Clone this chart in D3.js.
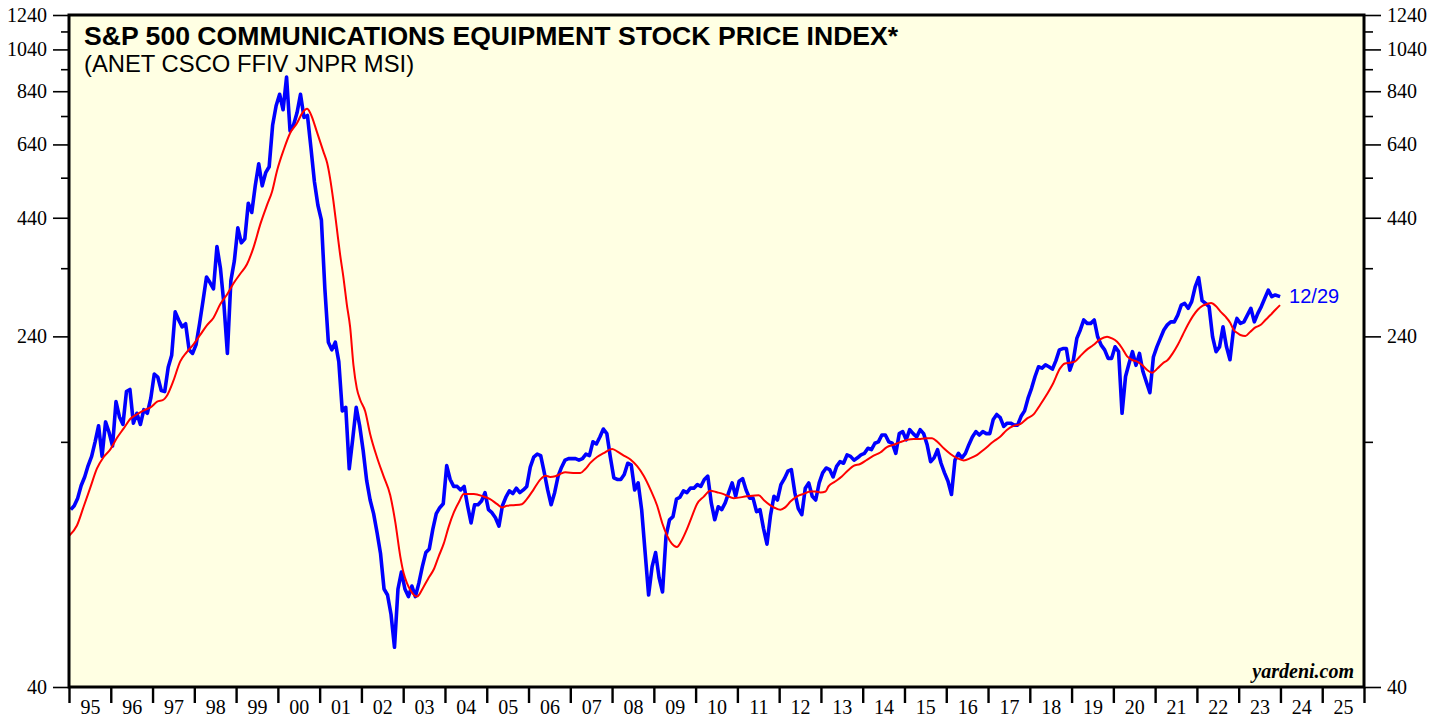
<!DOCTYPE html>
<html>
<head>
<meta charset="utf-8">
<script src="https://cdn.jsdelivr.net/npm/d3@7/dist/d3.min.js"></script>
<style>
  body { margin: 0; background: #fff; }
  svg { display: block; }
</style>
</head>
<body>
<div id="chart"></div>
<script>
// monthly readings, Jan 1995 .. Dec 2023 (the last one is 12/29)
var priceStartYear = 1995;
var priceValues = [
  99, 101, 105, 112, 117, 124, 130, 140, 152, 130, 155, 147,              // 95
  137, 172, 159, 153, 181, 183, 154, 162, 153, 165, 162, 175,             // 96
  198, 195, 182, 181, 205, 218, 272, 261, 252, 256, 224, 220,             // 97
  230, 256, 288, 325, 316, 306, 380, 340, 283, 220, 319, 353,             // 98
  418, 387, 395, 474, 452, 518, 580, 518, 554, 571, 707, 780,             // 99
  827, 764, 903, 686, 707, 752, 827, 735, 742, 629, 529, 469,             // 00
  435, 306, 233, 224, 233, 211, 164, 167, 122, 142, 167, 152,             // 01
  134, 115, 104, 97, 88, 79, 66, 64, 58, 49, 66, 72,                      // 02
  66, 63.5, 67, 63.5, 68, 74, 79.5, 81, 89.5, 97, 100, 102,               // 03
  124, 115.5, 111.5, 111.5, 109.5, 111.5, 101, 92.5, 101.5, 101.5, 103.5, 108, // 04
  99, 97.5, 95, 91, 101, 105.5, 109, 107.5, 110.5, 108, 109.5, 111.5,     // 05
  123, 129.5, 131.5, 130.5, 120, 109.5, 101.5, 108, 117.5, 123, 127.5, 128.5, // 06
  128.5, 128.5, 127.5, 128.5, 131.5, 130.5, 140, 138.5, 143.5, 149.5, 146, 129.5, // 07
  116.5, 115.5, 115.5, 118.5, 125.5, 124.5, 109.5, 113.5, 99, 79.5, 64, 74, // 08
  79.5, 70, 65, 86.5, 94, 95.5, 104.5, 105.5, 109, 108, 110.5, 110.5,     // 09
  112.5, 111.5, 115.5, 117.5, 102.5, 94, 100.5, 99, 102.5, 108, 113.5, 106, // 10
  114.5, 116, 109.5, 105, 105, 98, 99, 90, 83, 96, 106, 104,              // 11
  112.5, 116, 120.5, 121.5, 108, 99.5, 96.5, 110.5, 113.5, 106, 104, 113.5, // 12
  119.5, 122.5, 121.5, 117, 123.5, 126.5, 125.5, 131, 130, 127.5, 129, 131, // 13
  132, 135.5, 134.5, 139, 140, 145, 145, 140, 139, 132, 146, 147.5,       // 14
  141.5, 149, 146, 143.5, 149, 146, 138, 126.5, 129, 134.5, 125.5, 119.5, // 15
  114.5, 107, 127.5, 132, 129, 132, 138, 143.5, 147.5, 145, 147.5, 146,   // 16
  146, 157, 161, 158.5, 151.5, 154, 154, 152.5, 152.5, 159.5, 164, 175,   // 17
  184, 195.5, 205.5, 204, 207.5, 205.5, 203, 212, 224, 225.5, 225.5, 202, // 18
  212.5, 237.5, 248, 261, 256.5, 256.5, 261, 239.5, 229.5, 224, 214.5, 214.5, // 19
  227.5, 222, 162, 195.5, 209, 222, 207, 220, 200.5, 190, 180, 216,       // 20
  227.5, 237.5, 248, 254.5, 258.5, 258.5, 267.5, 281.5, 284, 277, 286.5, 309, // 21
  324, 288, 284, 279.5, 239.5, 222, 227.5, 252, 227.5, 213, 248, 263,     // 22
  256.5, 258.5, 267.5, 277, 258.5, 270, 279.5, 291.5, 304, 294, 296.5, 294 // 23
];
var lastDate = 2023 + 362 / 365;   // 12/29/2023

// red moving average: [year, value]
var avgPoints = [
  [1995.01, 86.8], [1995.19, 91.3], [1995.35, 100.5], [1995.51, 110.8], [1995.67, 122.2], [1995.83, 129.6],
  [1995.99, 134.7], [1996.15, 142.9], [1996.31, 150], [1996.47, 157.5], [1996.63, 161.2], [1996.78, 164.3],
  [1996.95, 166.9], [1997.11, 171.9], [1997.26, 173.6], [1997.34, 177], [1997.50, 191.4], [1997.66, 211],
  [1997.82, 221.5], [1997.98, 230.3], [1998.14, 241.8], [1998.30, 253.9], [1998.46, 264], [1998.62, 282.7],
  [1998.78, 296.8], [1998.94, 314.8], [1999.10, 330.5], [1999.26, 346.9], [1999.42, 378.8], [1999.58, 425.8],
  [1999.74, 469.4], [1999.86, 502.6], [1999.98, 559.6], [2000.14, 622.9], [2000.30, 680], [2000.46, 714.2],
  [2000.58, 749.8], [2000.70, 767.6], [2000.78, 749.8], [2000.94, 680], [2001.09, 616.9], [2001.18, 581.8],
  [2001.25, 538.2], [2001.33, 478.7], [2001.41, 417.6], [2001.49, 364.3], [2001.57, 324.1], [2001.65, 282.7],
  [2001.73, 251.5], [2001.81, 206.9], [2001.89, 184], [2001.97, 173.6], [2002.09, 163.7], [2002.21, 145.6],
  [2002.37, 129.6], [2002.53, 117.5], [2002.69, 106.6], [2002.81, 93], [2002.93, 78], [2003.01, 71.6],
  [2003.09, 68], [2003.17, 65.7], [2003.33, 63.5], [2003.49, 66.8], [2003.61, 69.9], [2003.73, 72.9],
  [2003.85, 78], [2003.97, 83.2], [2004.09, 90.8], [2004.21, 97.5], [2004.33, 102.7], [2004.45, 107.2],
  [2004.69, 107.2], [2004.92, 105.9], [2005.08, 104.5], [2005.25, 101.8], [2005.37, 100.1], [2005.48, 101],
  [2005.64, 101.3], [2005.84, 101.8], [2005.96, 104.5], [2006.12, 109.7], [2006.28, 115.4], [2006.40, 117.8],
  [2006.52, 117], [2006.64, 117.4], [2006.76, 118.8], [2006.88, 119.8], [2007.12, 119.4], [2007.24, 119.4],
  [2007.36, 121.9], [2007.48, 125.7], [2007.64, 129.6], [2007.80, 132.2], [2008.00, 135], [2008.12, 133.4],
  [2008.28, 130.5], [2008.44, 127.9], [2008.60, 123.6], [2008.76, 117.6], [2008.92, 109.7], [2009.08, 101],
  [2009.20, 92.5], [2009.32, 86.6], [2009.43, 83.2], [2009.55, 81.8], [2009.67, 84.7], [2009.79, 89.5],
  [2009.91, 95.5], [2010.03, 101.8], [2010.19, 105.7], [2010.35, 109.1], [2010.51, 108.2], [2010.67, 107.2],
  [2010.91, 105], [2011.23, 106], [2011.51, 106.6], [2011.63, 104], [2011.79, 101.2], [2012.03, 99],
  [2012.15, 100.3], [2012.27, 103.2], [2012.43, 106], [2012.59, 107.3], [2012.75, 108.6], [2012.87, 108.6],
  [2012.99, 108.1], [2013.11, 108.6], [2013.18, 111.5], [2013.34, 114.3], [2013.50, 117.3], [2013.66, 121.3],
  [2013.78, 123.8], [2013.94, 125], [2014.10, 127.7], [2014.26, 130.4], [2014.42, 132.6], [2014.58, 136.3],
  [2014.74, 137.9], [2014.90, 139.8], [2015.06, 141.4], [2015.22, 142.1], [2015.38, 142.1], [2015.54, 142.6],
  [2015.66, 142.6], [2015.78, 140.2], [2015.94, 135.5], [2016.10, 131.6], [2016.26, 128.8], [2016.42, 127.3],
  [2016.58, 128.8], [2016.74, 131], [2016.89, 134.3], [2017.13, 140.2], [2017.29, 143.7], [2017.45, 148.8],
  [2017.61, 151.9], [2017.77, 153.2], [2017.93, 157.6], [2018.09, 161.1], [2018.25, 169.2], [2018.41, 178.5],
  [2018.56, 188.9], [2018.72, 203.5], [2018.84, 209], [2018.96, 209.8], [2019.08, 211], [2019.20, 216.6],
  [2019.36, 224], [2019.52, 229.6], [2019.68, 236.3], [2019.85, 239.6], [2019.97, 237.5], [2020.09, 233.5],
  [2020.21, 225.9], [2020.33, 216.6], [2020.45, 212.7], [2020.57, 211], [2020.69, 207.4], [2020.81, 202.1],
  [2020.93, 199.4], [2021.06, 203.8], [2021.18, 209], [2021.30, 212.7], [2021.42, 220], [2021.54, 229.6],
  [2021.66, 241.7], [2021.78, 254.3], [2021.90, 265.8], [2022.02, 275], [2022.14, 280.8], [2022.26, 283.6],
  [2022.34, 284.6], [2022.46, 279.8], [2022.56, 272.7], [2022.68, 265.8], [2022.80, 256.9], [2022.88, 247.9],
  [2022.96, 244.5], [2023.04, 241.7], [2023.16, 240.5], [2023.28, 245.8], [2023.40, 251.2], [2023.52, 254.3],
  [2023.64, 260.9], [2023.76, 267.6], [2023.88, 275], [2023.99, 281.6]
];

var yTicks = [40, 240, 440, 640, 840, 1040, 1240];
var yMinorTicks = [140, 340, 540, 740, 940, 1140];
var yearTicks = d3.range(1995, 2027);
var yearLabels = ["95", "96", "97", "98", "99", "00", "01", "02", "03", "04", "05", "06", "07", "08", "09", "10",
                  "11", "12", "13", "14", "15", "16", "17", "18", "19", "20", "21", "22", "23", "24", "25"];

var titleText = "S&P 500 COMMUNICATIONS EQUIPMENT STOCK PRICE INDEX*";
var subtitleText = "(ANET CSCO FFIV JNPR MSI)";
var lastLabel = "12/29";
var sourceText = "yardeni.com";

var width = 1446, height = 719;
var plot = {left: 69, right: 1364, top: 15, bottom: 687};
var serif = "'Liberation Serif', 'Times New Roman', serif";
var sans = "'Liberation Sans', Arial, sans-serif";

var svg = d3.select("#chart").append("svg")
  .attr("width", width)
  .attr("height", height);

var x = d3.scaleLinear().domain([1995, 2026]).range([plot.left, plot.right]);
var y = d3.scaleLog().domain([40, 1240]).range([plot.bottom, plot.top]);

// plot background
svg.append("rect")
  .attr("x", plot.left).attr("y", plot.top)
  .attr("width", plot.right - plot.left).attr("height", plot.bottom - plot.top)
  .attr("fill", "#ffffe3");

svg.append("clipPath").attr("id", "clip")
  .append("rect")
  .attr("x", plot.left).attr("y", plot.top)
  .attr("width", plot.right - plot.left).attr("height", plot.bottom - plot.top);

// lines
var priceData = priceValues.map(function(v, i) {
  return [priceStartYear + (i + 0.5) / 12, v];
});
priceData[priceData.length - 1][0] = lastDate;

var line = d3.line()
  .x(function(d) { return x(d[0]); })
  .y(function(d) { return y(d[1]); });

svg.append("path")
  .datum(priceData)
  .attr("clip-path", "url(#clip)")
  .attr("fill", "none")
  .attr("stroke", "#0000ff")
  .attr("stroke-width", 3.6)
  .attr("stroke-linejoin", "round")
  .attr("d", line);

svg.append("path")
  .datum(avgPoints)
  .attr("clip-path", "url(#clip)")
  .attr("fill", "none")
  .attr("stroke", "#ff0000")
  .attr("stroke-width", 2)
  .attr("d", line.curve(d3.curveMonotoneX));

// axes
function styleAxis(g, size) {
  g.select(".domain").remove();
  g.selectAll("line").attr("stroke", "#000").attr("stroke-width", 1.6);
  g.selectAll("text")
    .attr("fill", "#000")
    .style("font-family", serif)
    .style("font-size", size + "px");
}

svg.append("g")
  .attr("transform", "translate(" + plot.left + ",0)")
  .call(d3.axisLeft(y).tickValues(yTicks).tickSize(16).tickPadding(6).tickFormat(d3.format("d")))
  .call(styleAxis, 20);
svg.append("g")
  .attr("transform", "translate(" + plot.left + ",0)")
  .call(d3.axisLeft(y).tickValues(yMinorTicks).tickSize(8).tickFormat(""))
  .call(styleAxis, 20);

svg.append("g")
  .attr("transform", "translate(" + plot.right + ",0)")
  .call(d3.axisRight(y).tickValues(yTicks).tickSize(17).tickPadding(6).tickFormat(d3.format("d")))
  .call(styleAxis, 20);
svg.append("g")
  .attr("transform", "translate(" + plot.right + ",0)")
  .call(d3.axisRight(y).tickValues(yMinorTicks).tickSize(9).tickFormat(""))
  .call(styleAxis, 20);

var xTickG = svg.append("g")
  .attr("transform", "translate(0," + plot.bottom + ")")
  .call(d3.axisBottom(x).tickValues(yearTicks).tickSize(16).tickFormat(""))
  .call(styleAxis, 20);
xTickG.selectAll("line").attr("stroke-width", 2.4);

svg.append("g")
  .attr("transform", "translate(0," + plot.bottom + ")")
  .call(d3.axisBottom(x)
    .tickValues(yearLabels.map(function(d, i) { return 1995.5 + i; }))
    .tickSize(0).tickPadding(13)
    .tickFormat(function(d, i) { return yearLabels[i]; }))
  .call(styleAxis, 20);

// frame
svg.append("rect")
  .attr("x", plot.left).attr("y", plot.top)
  .attr("width", plot.right - plot.left).attr("height", plot.bottom - plot.top)
  .attr("fill", "none")
  .attr("stroke", "#000")
  .attr("stroke-width", 3);

// texts
svg.append("text")
  .attr("x", 84).attr("y", 45)
  .style("font-family", sans).style("font-size", "26.6px").style("font-weight", "bold")
  .text(titleText);

svg.append("text")
  .attr("x", 84).attr("y", 72)
  .style("font-family", sans).style("font-size", "23.8px")
  .text(subtitleText);

svg.append("text")
  .attr("x", x(lastDate) + 9).attr("y", 303)
  .attr("fill", "#0000ff")
  .style("font-family", sans).style("font-size", "20px")
  .text(lastLabel);

svg.append("text")
  .attr("x", 1354).attr("y", 678)
  .attr("text-anchor", "end")
  .style("font-family", serif).style("font-size", "20px")
  .style("font-weight", "bold").style("font-style", "italic")
  .text(sourceText);
</script>
</body>
</html>
